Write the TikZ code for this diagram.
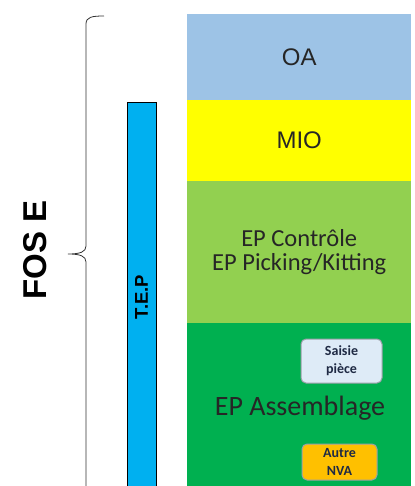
\documentclass[tikz,border=0pt]{standalone}
\usepackage{fontspec}
\setmainfont{Carlito}
\newfontfamily\arialf{Liberation Sans}
\definecolor{oablue}{HTML}{9DC3E6}
\definecolor{mioyel}{HTML}{FFFF00}
\definecolor{lgreen}{HTML}{92D050}
\definecolor{dgreen}{HTML}{00B050}
\definecolor{tepcyan}{HTML}{00B0F0}
\definecolor{saisiefill}{HTML}{DEEBF7}
\definecolor{nvaorange}{HTML}{FFC000}
\definecolor{boxborder}{HTML}{9A9FA8}
\definecolor{boxtext}{HTML}{1F2A44}
\begin{document}
\begin{tikzpicture}[x=1pt,y=-1pt,
  band/.style={rectangle, draw=none, anchor=north west, minimum width=224pt, inner sep=0pt, text=black!85},
  tagbox/.style={rectangle, rounded corners=5pt, draw=boxborder, line width=1pt, inner sep=0pt, align=center, text=boxtext, font=\fontsize{14}{18}\selectfont\bfseries}
]
\useasboundingbox (0,0) rectangle (414,486);
\fill[white] (0,0) rectangle (414,486);
% bands
\node[band, fill=oablue, minimum height=86pt, font=\arialf\fontsize{24}{26}\selectfont] (oa) at (187,14) {OA};
\node[band, fill=mioyel, minimum height=81pt, font=\arialf\fontsize{24}{26}\selectfont] (mio) at (187,100) {MIO};
\node[band, fill=lgreen, minimum height=142pt, align=center, font=\fontsize{24.5}{24.5}\selectfont] (ep) at (187,181) {EP Contrôle\\EP Picking/Kitting};
\node[band, fill=dgreen, minimum height=163pt] (asm) at (187,323) {};
\node[font=\fontsize{28}{30}\selectfont, text=black!85, inner sep=0pt] (asmlabel) at (300,408) {EP Assemblage};
\node[tagbox, fill=saisiefill, minimum width=81pt, minimum height=44pt] (saisie) at (341.5,361) {Saisie\\pièce};
\node[tagbox, fill=nvaorange, minimum width=75pt, minimum height=36pt] (nva) at (339.5,462) {Autre\\NVA};
% TEP bar
\node[rectangle, draw=black, line width=0.8pt, fill=tepcyan, anchor=north west, minimum width=29pt, minimum height=390pt, inner sep=0pt] (tepbar) at (127,102) {};
\node[rotate=90, font=\arialf\bfseries\fontsize{18.5}{20}\selectfont, inner sep=0pt] (teplabel) at (141.5,297) {T.E.P};
% brace
\draw[line width=0.8pt, black!80] (104,16) .. controls (92,16) and (86,17) .. (86,24) -- (86,246)
  .. controls (86,252) and (80,254) .. (68,254)
  .. controls (80,254) and (86,256) .. (86,262) -- (86,490);
\node[rotate=90, font=\arialf\bfseries\fontsize{33}{36}\selectfont, inner sep=0pt] (fos) at (35,250) {FOS E};
\end{tikzpicture}
\end{document}
